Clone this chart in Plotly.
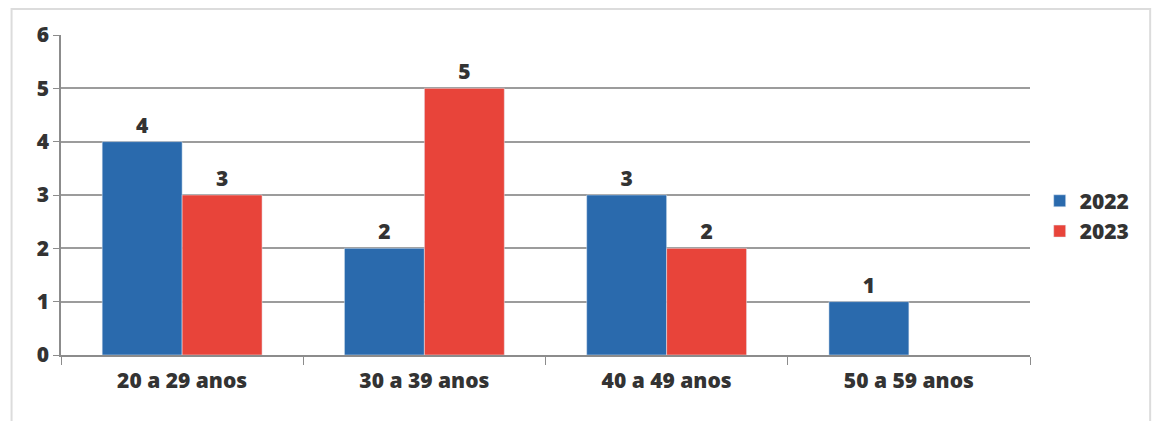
import plotly.graph_objects as go

categories = ["20 a 29 anos", "30 a 39 anos", "40 a 49 anos", "50 a 59 anos"]
values_2022 = [4, 2, 3, 1]
values_2023 = [3, 5, 2, None]
y_ticks = [0, 1, 2, 3, 4, 5, 6]

FONT = "Open Sans"
TXT = "#333333"
BLUE = "#2a6aad"
RED = "#e8443a"
W = 800
FS = 21

fig = go.Figure()
fig.add_trace(go.Bar(
    name="2022", x=categories, y=values_2022, marker_color=BLUE,
    text=values_2022, textposition="outside", cliponaxis=False,
    textfont=dict(family=FONT, size=FS, color=TXT, weight=W),
))
fig.add_trace(go.Bar(
    name="2023", x=categories, y=values_2023, marker_color=RED,
    text=[v if v is not None else "" for v in values_2023], textposition="outside", cliponaxis=False,
    textfont=dict(family=FONT, size=FS, color=TXT, weight=W),
))

fig.update_layout(
    width=1154, height=421,
    margin=dict(l=61, r=124, t=35, b=66),
    paper_bgcolor="white", plot_bgcolor="white",
    barmode="group", bargap=0.34, bargroupgap=0,
    font=dict(family=FONT, color=TXT, size=FS, weight=W),
    legend=dict(x=1.01, y=0.434, xanchor="left", yanchor="middle",
                font=dict(family=FONT, size=FS, color=TXT, weight=W),
                itemwidth=30, tracegroupgap=2),
    xaxis=dict(
        showgrid=False, showline=True, linecolor="#8c8c8c", linewidth=1.5,
        ticks="outside", tickson="boundaries", ticklen=8, tickcolor="#8c8c8c",
        tickfont=dict(family=FONT, size=FS, color=TXT, weight=W),
        ticklabelstandoff=6,
    ),
    yaxis=dict(
        range=[0, 6], tickvals=y_ticks, showgrid=True, gridcolor="#9c9c9c", gridwidth=1.5,
        showline=True, linecolor="#8c8c8c", linewidth=1.5,
        ticks="outside", ticklen=6, tickcolor="#8c8c8c",
        tickfont=dict(family=FONT, size=FS, color=TXT, weight=W),
        zeroline=False,
    ),
    shapes=[dict(type="rect", xref="paper", yref="paper",
                 x0=-0.051, x1=1.124, y0=-0.3, y1=1.081,
                 line=dict(color="#dcdcdc", width=2), fillcolor="rgba(0,0,0,0)", layer="below")],
)

fig.write_html("out.html", config={"displayModeBar": False},
               post_script="document.body.style.margin='0';document.body.style.padding='0';")
